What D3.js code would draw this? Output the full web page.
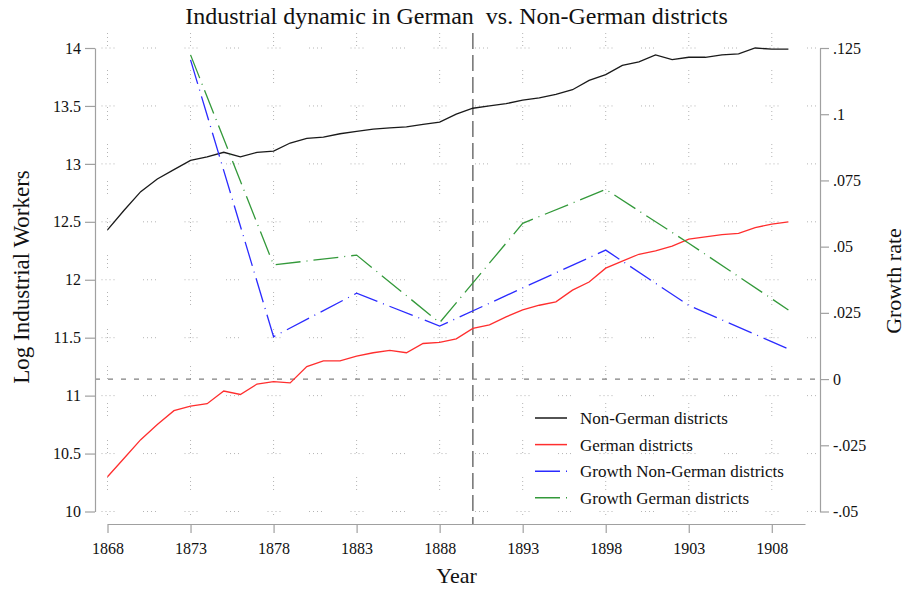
<!DOCTYPE html>
<html>
<head>
<meta charset="utf-8">
<script src="https://cdn.jsdelivr.net/npm/d3@7"></script>
<style>
	body { margin: 0; background: #fff; }
	svg text { font-family: "Liberation Serif", "Times New Roman", serif; fill: #111; }
</style>
</head>
<body>
<svg id="chart" width="906" height="590"></svg>
<script>
const years = [1868, 1869, 1870, 1871, 1872, 1873, 1874, 1875, 1876, 1877,
	1878, 1879, 1880, 1881, 1882, 1883, 1884, 1885, 1886, 1887,
	1888, 1889, 1890, 1891, 1892, 1893, 1894, 1895, 1896, 1897,
	1898, 1899, 1900, 1901, 1902, 1903, 1904, 1905, 1906, 1907,
	1908, 1909];
const nonGerman = [12.43, 12.60, 12.76, 12.87, 12.95, 13.03, 13.06, 13.10, 13.06, 13.10,
	13.11, 13.18, 13.22, 13.23, 13.26, 13.28, 13.30, 13.31, 13.32, 13.34,
	13.36, 13.43, 13.48, 13.50, 13.52, 13.55, 13.57, 13.60, 13.64, 13.72,
	13.77, 13.85, 13.88, 13.94, 13.90, 13.92, 13.92, 13.94, 13.95, 14.00,
	13.99, 13.99];
const german = [10.30, 10.46, 10.62, 10.75, 10.87, 10.91, 10.93, 11.04, 11.01, 11.10,
	11.12, 11.11, 11.25, 11.30, 11.30, 11.34, 11.37, 11.39, 11.37, 11.45,
	11.46, 11.49, 11.58, 11.61, 11.68, 11.74, 11.78, 11.81, 11.91, 11.98,
	12.10, 12.16, 12.22, 12.25, 12.29, 12.35, 12.37, 12.39, 12.40, 12.45,
	12.48, 12.50];
const growthYears = [1873, 1878, 1883, 1888, 1893, 1898, 1903, 1909];
const growthNonGerman = [0.1205, 0.016, 0.0324, 0.020, 0.0344, 0.0487, 0.0278, 0.0114];
const growthGerman = [0.1224, 0.0431, 0.0468, 0.0213, 0.0588, 0.0716, 0.0513, 0.0261];

const xTicks = [1868, 1873, 1878, 1883, 1888, 1893, 1898, 1903, 1908];
const leftTicks = [10, 10.5, 11, 11.5, 12, 12.5, 13, 13.5, 14];
const rightTicks = [-0.05, -0.025, 0, 0.025, 0.05, 0.075, 0.1, 0.125];
const rightTickLabels = ['-.05', '-.025', '0', '.025', '.05', '.075', '.1', '.125'];
const legendLabels = ['Non-German districts', 'German districts', 'Growth Non-German districts', 'Growth German districts'];
const colors = ['#1a1a1a', '#ff2e2e', '#2b2bff', '#33993a'];
const dashes = [null, null, '25,6,1,6', '25,6,1,6'];

const svg = d3.select('#chart');

const x = d3.scaleLinear().domain([1868, 1910]).range([107.5, 805]);
const yLeft = d3.scaleLinear().domain([10, 14]).range([511.5, 48]);
const yRight = d3.scaleLinear().domain([-0.05, 0.125]).range([511.5, 48]);

// dotted grid
svg.append('g').selectAll('line')
	.data(leftTicks)
	.enter()
	.append('line')
	.attr('x1', 101.5).attr('x2', 818)
	.attr('y1', d => yLeft(d)).attr('y2', d => yLeft(d))
	.attr('stroke', '#b4b4b4')
	.attr('stroke-dasharray', '1,3,1,3,1,3,1,28.5');

svg.append('g').selectAll('line')
	.data(xTicks)
	.enter()
	.append('line')
	.attr('x1', d => x(d)).attr('x2', d => x(d))
	.attr('y1', 33).attr('y2', 516)
	.attr('stroke', '#b4b4b4')
	.attr('stroke-dasharray', '1,3,1,3,1,3,1,24');

// reference lines
svg.append('line')
	.attr('x1', 95).attr('x2', 818)
	.attr('y1', yRight(0)).attr('y2', yRight(0))
	.attr('stroke', '#808080')
	.attr('stroke-width', 1.3)
	.attr('stroke-dasharray', '5,8');

svg.append('line')
	.attr('x1', x(1890)).attr('x2', x(1890))
	.attr('y1', 33).attr('y2', 524)
	.attr('stroke', '#707070')
	.attr('stroke-width', 1.5)
	.attr('stroke-dasharray', '16,6');

// axes
const styleAxis = (g) => {
	g.selectAll('path, line').attr('stroke', '#a0a0a0').attr('stroke-width', 1.2);
	g.selectAll('text').attr('font-size', 16).attr('fill', '#111')
		.attr('font-family', '"Liberation Serif", "Times New Roman", serif');
};

svg.append('g')
	.attr('transform', 'translate(95,0)')
	.call(d3.axisLeft(yLeft).tickValues(leftTicks).tickFormat(d3.format('')).tickSize(10).tickSizeOuter(0).tickPadding(4))
	.call(styleAxis);

svg.append('g')
	.attr('transform', 'translate(820,0)')
	.call(d3.axisRight(yRight).tickValues(rightTicks).tickFormat((d, i) => rightTickLabels[i]).tickSize(9).tickSizeOuter(0).tickPadding(4))
	.call(styleAxis);

svg.append('g')
	.attr('transform', 'translate(0,524)')
	.call(d3.axisBottom(x).tickValues(xTicks).tickFormat(d3.format('d')).tickSize(9).tickSizeOuter(0).tickPadding(10))
	.call(styleAxis);

// series
const levelLine = d3.line().x(d => x(d.year)).y(d => yLeft(d.value));
const growthLine = d3.line().x(d => x(d.year)).y(d => yRight(d.value));

const series = [
	{ line: levelLine, data: years.map((yr, i) => ({ year: yr, value: nonGerman[i] })) },
	{ line: levelLine, data: years.map((yr, i) => ({ year: yr, value: german[i] })) },
	{ line: growthLine, data: growthYears.map((yr, i) => ({ year: yr, value: growthNonGerman[i] })) },
	{ line: growthLine, data: growthYears.map((yr, i) => ({ year: yr, value: growthGerman[i] })) }
];

series.forEach((s, i) => {
	svg.append('path')
		.datum(s.data)
		.attr('d', s.line)
		.attr('fill', 'none')
		.attr('stroke', colors[i])
		.attr('stroke-width', 1.3)
		.attr('stroke-dasharray', dashes[i]);
});

// legend
const legend = svg.append('g')
	.selectAll('g')
	.data(legendLabels)
	.enter()
	.append('g')
	.attr('transform', (d, i) => `translate(535, ${418 + i * 26.6})`);

legend.append('line')
	.attr('x1', 0).attr('x2', 32)
	.attr('stroke', (d, i) => colors[i])
	.attr('stroke-width', 1.5)
	.attr('stroke-dasharray', (d, i) => dashes[i]);

legend.append('text')
	.text(d => d)
	.attr('x', 45)
	.attr('y', 6)
	.attr('font-size', 17);

// titles
svg.append('text')
	.text('Industrial dynamic in German\u00a0 vs. Non-German districts')
	.attr('x', 456.5).attr('y', 24)
	.attr('text-anchor', 'middle')
	.attr('font-size', 24);

svg.append('text')
	.text('Year')
	.attr('x', 456.5).attr('y', 583)
	.attr('text-anchor', 'middle')
	.attr('font-size', 22);

svg.append('text')
	.text('Log Industrial Workers')
	.attr('transform', 'translate(29,277) rotate(-90)')
	.attr('text-anchor', 'middle')
	.attr('font-size', 23);

svg.append('text')
	.text('Growth rate')
	.attr('transform', 'translate(901,281) rotate(-90)')
	.attr('text-anchor', 'middle')
	.attr('font-size', 22);
</script>
</body>
</html>
